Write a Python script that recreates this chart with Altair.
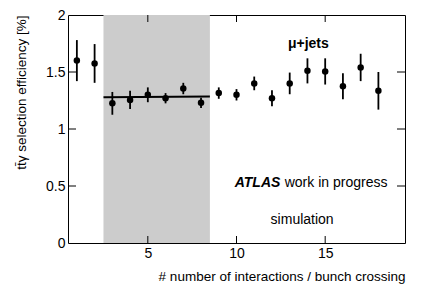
import altair as alt
import pandas as pd

# data
n_int = list(range(1, 19))
eff = [1.60, 1.575, 1.225, 1.255, 1.30, 1.27, 1.355, 1.23, 1.315, 1.30,
       1.40, 1.27, 1.40, 1.51, 1.505, 1.375, 1.54, 1.335]
err = [0.18, 0.17, 0.10, 0.08, 0.065, 0.045, 0.05, 0.045, 0.05, 0.05,
       0.06, 0.07, 0.095, 0.11, 0.115, 0.115, 0.12, 0.165]
fit_x = [2.5, 8.5]
fit_y = [1.278, 1.285]
band_lo = [2.5]
band_hi = [8.5]
x_ticks = [5, 10, 15]
y_ticks = [0, 0.5, 1, 1.5, 2]
y_inner_ticks = [0.5, 1, 1.5]

W, H = 337, 228
FONT = "Liberation Sans"

df = pd.DataFrame({"n": n_int, "eff": eff,
                   "lo": [e - s for e, s in zip(eff, err)],
                   "hi": [e + s for e, s in zip(eff, err)]})
fit = pd.DataFrame({"n": fit_x, "eff": fit_y})
band = pd.DataFrame({"a": band_lo, "b": band_hi})
xt = pd.DataFrame({"v": x_ticks})
yt = pd.DataFrame({"v": y_inner_ticks})

xs = alt.Scale(domain=[0.5, 19.5], nice=False, zero=False)
ys = alt.Scale(domain=[0, 2], nice=False, zero=False)

xaxis = alt.Axis(values=x_ticks, title="# number of interactions / bunch crossing",
                 grid=False, ticks=False, domain=False, labelPadding=3,
                 titleAnchor="end", titlePadding=9, labelFlush=False)
yaxis = alt.Axis(values=y_ticks, format="~g", title="tt̄γ selection efficiency [%]",
                 grid=False, ticks=False, domain=False, labelPadding=3,
                 titleAnchor="end", titlePadding=17, labelFlush=False)

rect = alt.Chart(band).mark_rect(color="#cccccc").encode(
    x=alt.X("a:Q", scale=xs, axis=xaxis), x2="b:Q")

fitline = alt.Chart(fit).mark_line(color="black", strokeWidth=2).encode(
    x=alt.X("n:Q", scale=xs), y=alt.Y("eff:Q", scale=ys, axis=yaxis))

bars = alt.Chart(df).mark_rule(color="black", strokeWidth=1.8).encode(
    x=alt.X("n:Q", scale=xs), y=alt.Y("lo:Q", scale=ys), y2="hi:Q")

pts = alt.Chart(df).mark_circle(color="black", opacity=1, size=42).encode(
    x=alt.X("n:Q", scale=xs), y=alt.Y("eff:Q", scale=ys))

# inward ticks on all four sides
tb = alt.Chart(xt).mark_rule(color="black", strokeWidth=1).encode(
    x=alt.X("v:Q", scale=xs), y=alt.value(H), y2=alt.value(H - 7))
tt = alt.Chart(xt).mark_rule(color="black", strokeWidth=1).encode(
    x=alt.X("v:Q", scale=xs), y=alt.value(0), y2=alt.value(7))
tl = alt.Chart(yt).mark_rule(color="black", strokeWidth=1).encode(
    y=alt.Y("v:Q", scale=ys), x=alt.value(0), x2=alt.value(8))
tr = alt.Chart(yt).mark_rule(color="black", strokeWidth=1).encode(
    y=alt.Y("v:Q", scale=ys), x=alt.value(W - 8), x2=alt.value(W))

ann = pd.DataFrame({
    "x": [14.05, 9.9, 9.9, 13.7],
    "y": [1.75, 0.53, 0.53, 0.20],
    "t": ["μ+jets", "ATLAS", "work in progress", "simulation"],
})
t_mu = alt.Chart(ann.iloc[[0]]).mark_text(font=FONT, fontSize=14, fontWeight="bold",
                                          align="center", baseline="middle").encode(
    x=alt.X("x:Q", scale=xs), y=alt.Y("y:Q", scale=ys), text="t:N")
t_atlas = alt.Chart(ann.iloc[[1]]).mark_text(font=FONT, fontSize=14, fontWeight="bold",
                                             fontStyle="italic", align="left",
                                             baseline="middle").encode(
    x=alt.X("x:Q", scale=xs), y=alt.Y("y:Q", scale=ys), text="t:N")
t_wip = alt.Chart(ann.iloc[[2]]).mark_text(font=FONT, fontSize=14, align="left",
                                           baseline="middle", dx=50).encode(
    x=alt.X("x:Q", scale=xs), y=alt.Y("y:Q", scale=ys), text="t:N")
t_sim = alt.Chart(ann.iloc[[3]]).mark_text(font=FONT, fontSize=14, align="center",
                                           baseline="middle").encode(
    x=alt.X("x:Q", scale=xs), y=alt.Y("y:Q", scale=ys), text="t:N")

chart = alt.layer(rect, fitline, bars, pts, tb, tt, tl, tr,
                  t_mu, t_atlas, t_wip, t_sim).properties(
    width=W, height=H,
    background="white",
    autosize=alt.AutoSizeParams(type="none"),
    padding={"left": 60, "top": 7, "right": 14, "bottom": 46},
).configure_view(stroke="black", strokeWidth=1).configure_axis(
    labelFont=FONT, titleFont=FONT, labelFontSize=14, titleFontSize=13.5,
    labelColor="black", titleColor="black", titleFontWeight="normal",
)

chart.save("out.html", embed_options={"renderer": "svg", "actions": False})
